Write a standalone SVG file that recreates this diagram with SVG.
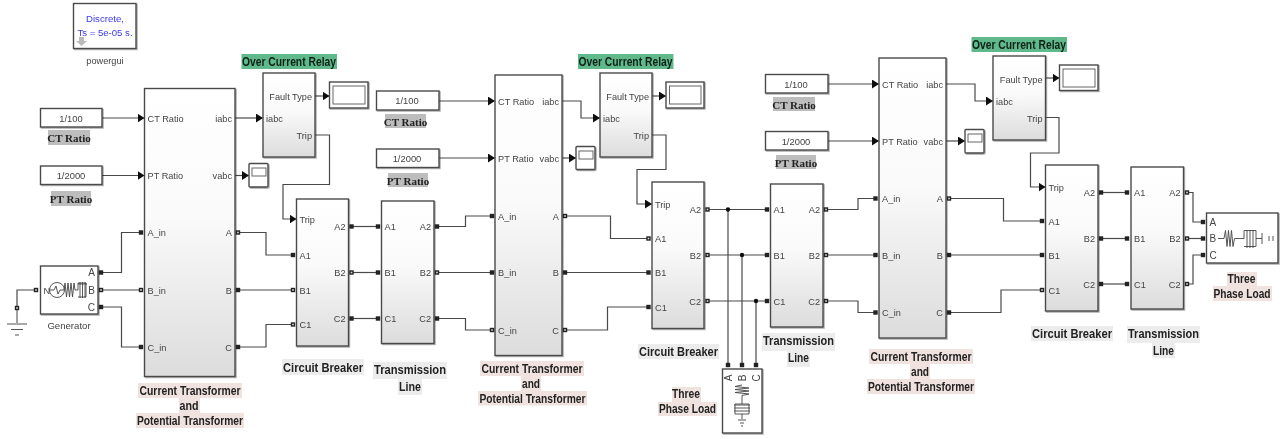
<svg xmlns="http://www.w3.org/2000/svg" width="1282" height="439" viewBox="0 0 1282 439">
<style>
text{font-family:"Liberation Sans",Arial,sans-serif;font-size:9.2px;fill:#444}
.m{text-anchor:middle}.e{text-anchor:end}
.blk{fill:url(#g);stroke:#4a4a4a;stroke-width:1.4;filter:url(#s)}
.wb{fill:#fff;stroke:#4a4a4a;stroke-width:1.4;filter:url(#s)}
.in{fill:#fff;stroke:#666;stroke-width:1}
.c{fill:none;stroke:#4a4a4a;stroke-width:1.2}
.a{marker-end:url(#ar)}
.ic{fill:none;stroke:#444;stroke-width:.9}
.big{font-size:12px;font-weight:bold;fill:#222;text-anchor:middle}
.ser{font-family:"Liberation Serif","Times New Roman",serif;font-size:11px;font-weight:bold;fill:#222;text-anchor:middle}
.ocr{font-size:12px;font-weight:bold;fill:#102018;text-anchor:middle}
.hg{fill:#5fb98a}.hs{fill:#bdbdbd}.hp{fill:#f0e2de}.hl{fill:#ececec}
.cv{font-size:9.4px;text-anchor:middle;fill:#444}
.blue{fill:#3a3ae8;font-size:9.6px;text-anchor:middle}
.pl{font-size:10px}
</style>
<defs>
<linearGradient id="g" x1="0" y1="0" x2="0" y2="1"><stop offset="0" stop-color="#fff"/><stop offset=".45" stop-color="#fafafa"/><stop offset="1" stop-color="#dcdcdc"/></linearGradient>
<filter id="s" x="-10%" y="-10%" width="125%" height="125%"><feDropShadow dx="1" dy="1" stdDeviation=".7" flood-color="#000" flood-opacity=".35"/></filter>
<filter id="bl" x="0" y="0" width="1282" height="439" filterUnits="userSpaceOnUse"><feGaussianBlur stdDeviation=".55"/></filter>
<marker id="ar" markerUnits="userSpaceOnUse" markerWidth="8" markerHeight="10" refX="7" refY="4.500" orient="auto"><path d="M0 0L7 4.500L0 9Z" fill="#111"/></marker>
<rect id="p" x="-2.2" y="-2.2" width="4.4" height="4.4" fill="#222"/>
<g id="q"><rect x="-2.2" y="-2.2" width="4.4" height="4.4" fill="#222"/><rect x="-.8" y="-.8" width="1.6" height="1.6" fill="#ddd"/></g>
<circle id="j" r="2.2" fill="#111"/>
</defs>
<g filter="url(#bl)">
<rect width="1282" height="439" fill="#fff"/>

<g id="connectors">
<path class="c a" d="M102 118H144.500"/><path class="c a" d="M102 175.500H144.500"/>
<path class="c a" d="M235 118H263"/><path class="c a" d="M235 175.500H249"/>
<path class="c a" d="M315 96H329.500"/>
<path class="c a" d="M315 135H329.500V184.500H283V219H296.500"/>
<path class="c" d="M36 290H17V307"/>
<path class="c" d="M101 272.500H121.500V232.500H141"/><path class="c" d="M101 290H141"/><path class="c" d="M101 307H121.500V347H141"/>
<path class="c" d="M238 232.500H266V255H293"/><path class="c" d="M238 290H293"/><path class="c" d="M238 347H266V324.500H293"/>
<path class="c" d="M351 226.500H378"/><path class="c" d="M351 272.500H378"/><path class="c" d="M351 318.500H378"/>
<path class="c" d="M437 226.500H465.500V216H492"/><path class="c" d="M437 272.500H492"/><path class="c" d="M437 318.500H465.500V330H492"/>
<path class="c a" d="M439 101H495"/><path class="c a" d="M439 158H495"/>
<path class="c a" d="M562 101H581V118H600"/><path class="c a" d="M562 158H576"/>
<path class="c a" d="M652 96H666"/>
<path class="c a" d="M652 135H666V169.500H637V204H652"/>
<path class="c" d="M565 216H610.500V238.500H649"/><path class="c" d="M565 272.500H649"/><path class="c" d="M565 330H607.500V307H649"/>
<path class="c" d="M707 209.500H767.500"/><path class="c" d="M707 255H767.500"/><path class="c" d="M707 301H767.500"/>
<path class="c" d="M728 209.500V365"/><path class="c" d="M742 255V365"/><path class="c" d="M756 301V365"/>
<path class="c" d="M826 209.500H858V198.500H876"/><path class="c" d="M826 255H876"/><path class="c" d="M826 301H858V312.500H876"/>
<path class="c a" d="M828 84H879"/><path class="c a" d="M828 141H879"/>
<path class="c a" d="M946 84H975V101H993"/><path class="c a" d="M946 141H965"/>
<path class="c a" d="M1045.500 78H1059.500"/>
<path class="c a" d="M1045.500 117.500H1059V153H1030.500V187H1045.500"/>
<path class="c" d="M949 198.500H1003.500V221H1042"/><path class="c" d="M949 255H1042"/><path class="c" d="M949 312.500H1001V290H1042"/>
<path class="c" d="M1101 192.500H1128"/><path class="c" d="M1101 238.500H1128"/><path class="c" d="M1101 284H1128"/>
<path class="c" d="M1186 192.500H1193V222H1203"/><path class="c" d="M1186 238.500H1203"/><path class="c" d="M1186 284H1193V255H1203"/>
<use href="#j" x="728" y="209.500"/><use href="#j" x="742" y="255"/><use href="#j" x="756" y="301"/>
</g>

<g id="powergui">
<rect class="wb" x="73.500" y="3.500" width="62.500" height="45"/>
<text x="105" y="21.500" class="blue">Discrete,</text>
<text x="105" y="35.500" class="blue">Ts = 5e-05 s.</text>
<path d="M79 37h5v4h3l-5.500 5l-5.500-5h3z" fill="#bbb"/>
<text x="105" y="63.500" class="m">powergui</text>
</g>

<g id="generator">
<rect class="wb" x="40.500" y="266" width="57.500" height="48"/>
<text x="43.500" y="293.500">N</text><text x="95" y="276" class="e pl">A</text><text x="95" y="293.500" class="e pl">B</text><text x="95" y="311" class="e pl">C</text>
<circle class="ic" cx="57" cy="290" r="7.500"/><path class="ic" d="M50 290H54M54 290l2-4l2 8l2-4M60 290H64"/>
<path class="ic" d="M64 290l1-7l1.500 14l1.500-14l1.500 14l1.500-14l1.500 14l1.500-14l1 7H78v-7h8v14h-8M78 284h9M80 282v16M82.500 282v16M85 282v16"/>
<use href="#q" x="36" y="290"/><use href="#p" x="101" y="272.500"/><use href="#q" x="101" y="290"/><use href="#p" x="101" y="307"/>
<text x="69" y="328.500" class="m" style="font-size:9.600px">Generator</text>
</g>

<g id="ground">
<use href="#q" x="17" y="308"/>
<path d="M17 310V323M7 324H27M11 329.500H23M15 335H19" fill="none" stroke="#555" stroke-width="1.100"/>
</g>

<g id="ct1">
<rect class="wb" x="40.500" y="108.500" width="61.500" height="18.500"/><text x="71" y="121.500" class="cv">1/100</text>
<rect class="hs" x="48" y="130" width="42" height="15"/><text x="69" y="142" class="ser">CT Ratio</text>
</g>
<g id="pt1">
<rect class="wb" x="40.500" y="166" width="61.500" height="18.500"/><text x="71" y="179" class="cv">1/2000</text>
<rect class="hs" x="51" y="191" width="40" height="15"/><text x="71" y="203" class="ser">PT Ratio</text>
</g>
<g id="transformer1">
<rect class="blk" x="144.500" y="88.500" width="90.500" height="288"/>
<text x="147.500" y="121.500">CT Ratio</text><text x="147.500" y="179">PT Ratio</text><text x="147.500" y="236">A_in</text><text x="147.500" y="293.500">B_in</text><text x="147.500" y="350.500">C_in</text>
<text x="232" y="121.500" class="e">iabc</text><text x="232" y="179" class="e">vabc</text><text x="232" y="236" class="e">A</text><text x="232" y="293.500" class="e">B</text><text x="232" y="350.500" class="e">C</text>
<use href="#p" x="141" y="232.500"/><use href="#q" x="141" y="290"/><use href="#p" x="141" y="347"/><use href="#q" x="238" y="232.500"/><use href="#p" x="238" y="290"/><use href="#p" x="238" y="347"/>
<rect class="hp" x="138" y="383" width="104" height="15"/><rect class="hp" x="179" y="398" width="21" height="15"/><rect class="hp" x="136" y="413" width="108" height="15"/>
<text x="190" y="395" class="big" textLength="101" lengthAdjust="spacingAndGlyphs">Current Transformer</text><text x="189" y="410" class="big" textLength="19" lengthAdjust="spacingAndGlyphs">and</text><text x="190" y="425" class="big" textLength="106" lengthAdjust="spacingAndGlyphs">Potential Transformer</text>
</g>
<g id="scope1a"><rect class="wb" x="249" y="163.500" width="19" height="23.500" rx="1"/><rect class="in" x="252" y="168" width="14" height="8"/></g>
<g id="relay1">
<rect class="hg" x="241.500" y="54" width="95.500" height="15"/><text x="289" y="65.500" class="ocr" textLength="94" lengthAdjust="spacingAndGlyphs">Over Current Relay</text>
<rect class="blk" x="263" y="73" width="52" height="84"/>
<text x="312" y="99.500" class="e">Fault Type</text><text x="266" y="121.500">iabc</text><text x="312" y="138.500" class="e">Trip</text>
</g>
<g id="scope1b"><rect class="wb" x="329.500" y="82" width="38.500" height="26"/><rect class="in" x="333" y="86" width="32" height="18"/></g>
<g id="breaker1">
<rect class="blk" x="296.500" y="199" width="52" height="147"/>
<text x="299.500" y="222.500">Trip</text><text x="299.500" y="258.500">A1</text><text x="299.500" y="293.500">B1</text><text x="299.500" y="328">C1</text>
<text x="345.500" y="230" class="e">A2</text><text x="345.500" y="276" class="e">B2</text><text x="345.500" y="322" class="e">C2</text>
<use href="#p" x="293" y="255"/><use href="#q" x="293" y="290"/><use href="#q" x="293" y="324.500"/><use href="#p" x="351.500" y="226.500"/><use href="#q" x="351.500" y="272.500"/><use href="#p" x="351.500" y="318.500"/>
<rect class="hl" x="282" y="359" width="82" height="16"/><text x="323" y="371.500" class="big" textLength="80" lengthAdjust="spacingAndGlyphs">Circuit Breaker</text>
</g>
<g id="line1">
<rect class="blk" x="381.500" y="201" width="52.500" height="142.500"/>
<text x="384.500" y="230">A1</text><text x="384.500" y="276">B1</text><text x="384.500" y="322">C1</text>
<text x="431" y="230" class="e">A2</text><text x="431" y="276" class="e">B2</text><text x="431" y="322" class="e">C2</text>
<use href="#p" x="378" y="226.500"/><use href="#p" x="378" y="272.500"/><use href="#p" x="378" y="318.500"/><use href="#p" x="437" y="226.500"/><use href="#q" x="437" y="272.500"/><use href="#p" x="437" y="318.500"/>
<rect class="hl" x="373" y="362" width="74" height="17"/><rect class="hl" x="398" y="379" width="24" height="16"/>
<text x="410" y="374" class="big" textLength="72" lengthAdjust="spacingAndGlyphs">Transmission</text><text x="410" y="391" class="big" textLength="22" lengthAdjust="spacingAndGlyphs">Line</text>
</g>

<g id="ct2">
<rect class="wb" x="376.500" y="91" width="62.500" height="19"/><text x="407" y="104" class="cv">1/100</text>
<rect class="hs" x="385" y="114" width="41" height="14"/><text x="405.500" y="125.500" class="ser">CT Ratio</text>
</g>
<g id="pt2">
<rect class="wb" x="376.500" y="149" width="62.500" height="18.500"/><text x="407" y="162" class="cv">1/2000</text>
<rect class="hs" x="388" y="173" width="40" height="14"/><text x="408" y="184.500" class="ser">PT Ratio</text>
</g>
<g id="transformer2">
<rect class="blk" x="495" y="75" width="67" height="280.500"/>
<text x="498" y="104.500">CT Ratio</text><text x="498" y="161.500">PT Ratio</text><text x="498" y="219.500">A_in</text><text x="498" y="276">B_in</text><text x="498" y="333.500">C_in</text>
<text x="559" y="104.500" class="e">iabc</text><text x="559" y="161.500" class="e">vabc</text><text x="559" y="219.500" class="e">A</text><text x="559" y="276" class="e">B</text><text x="559" y="333.500" class="e">C</text>
<use href="#p" x="492" y="216"/><use href="#p" x="492" y="272.500"/><use href="#q" x="492" y="330"/><use href="#q" x="565" y="216"/><use href="#p" x="565" y="272.500"/><use href="#q" x="565" y="330"/>
<rect class="hp" x="480" y="361" width="104" height="15"/><rect class="hp" x="521" y="376" width="20" height="15"/><rect class="hp" x="478" y="391" width="109" height="14.500"/>
<text x="532" y="373" class="big" textLength="101" lengthAdjust="spacingAndGlyphs">Current Transformer</text><text x="531" y="388" class="big" textLength="18" lengthAdjust="spacingAndGlyphs">and</text><text x="532.500" y="402.500" class="big" textLength="106" lengthAdjust="spacingAndGlyphs">Potential Transformer</text>
</g>
<g id="scope2a"><rect class="wb" x="576" y="146.500" width="19" height="23" rx="1"/><rect class="in" x="579" y="151" width="14" height="8"/></g>
<g id="relay2">
<rect class="hg" x="578" y="54" width="95.500" height="15"/><text x="625.500" y="65.500" class="ocr" textLength="94" lengthAdjust="spacingAndGlyphs">Over Current Relay</text>
<rect class="blk" x="600" y="73" width="52" height="84"/>
<text x="649" y="99.500" class="e">Fault Type</text><text x="603" y="121.500">iabc</text><text x="649" y="138.500" class="e">Trip</text>
</g>
<g id="scope2b"><rect class="wb" x="666" y="82" width="38" height="26"/><rect class="in" x="669.500" y="86" width="31.500" height="18"/></g>
<g id="breaker2">
<rect class="blk" x="652" y="182" width="52" height="146.500"/>
<text x="655" y="207.500">Trip</text><text x="655" y="242">A1</text><text x="655" y="276">B1</text><text x="655" y="310.500">C1</text>
<text x="701" y="213" class="e">A2</text><text x="701" y="258.500" class="e">B2</text><text x="701" y="304.500" class="e">C2</text>
<use href="#q" x="648.500" y="238.500"/><use href="#p" x="648.500" y="272.500"/><use href="#p" x="648.500" y="307"/><use href="#q" x="707.500" y="209.500"/><use href="#q" x="707.500" y="255"/><use href="#q" x="707.500" y="301"/>
<rect class="hl" x="638" y="344" width="81" height="15"/><text x="678.500" y="355.500" class="big" textLength="79" lengthAdjust="spacingAndGlyphs">Circuit Breaker</text>
</g>
<g id="line2">
<rect class="blk" x="770.500" y="184" width="52.500" height="143"/>
<text x="773.500" y="213">A1</text><text x="773.500" y="258.500">B1</text><text x="773.500" y="304.500">C1</text>
<text x="820" y="213" class="e">A2</text><text x="820" y="258.500" class="e">B2</text><text x="820" y="304.500" class="e">C2</text>
<use href="#p" x="767" y="209.500"/><use href="#p" x="767" y="255"/><use href="#p" x="767" y="301"/><use href="#q" x="826" y="209.500"/><use href="#q" x="826" y="255"/><use href="#q" x="826" y="301"/>
<rect class="hl" x="762" y="333" width="73" height="18"/><rect class="hl" x="787" y="351" width="23" height="16"/>
<text x="798.500" y="344.500" class="big" textLength="71" lengthAdjust="spacingAndGlyphs">Transmission</text><text x="798.500" y="361.500" class="big" textLength="21" lengthAdjust="spacingAndGlyphs">Line</text>
</g>
<g id="load1">
<rect class="wb" x="722.500" y="369" width="39.500" height="64"/>
<use href="#p" x="728" y="365"/><use href="#p" x="742" y="365"/><use href="#p" x="756" y="365"/>
<text transform="translate(731.500 378) rotate(-90)" class="m pl">A</text><text transform="translate(745.500 378) rotate(-90)" class="m pl">B</text><text transform="translate(759.500 378) rotate(-90)" class="m pl">C</text>
<path class="ic" d="M742 385l-7 1.500l14 1.500l-14 1.500l14 1.500l-14 1.500l14 1.500l-7 1.500V404h-7v10h14v-10h-7M734 405h16M734 408h16M734 411h16M742 414V419M738 420H746M740 423H744M741 426H743"/>
<rect class="hp" x="672" y="387" width="29" height="15"/><rect class="hp" x="658" y="402" width="59" height="14"/>
<text x="686" y="398" class="big" textLength="28" lengthAdjust="spacingAndGlyphs">Three</text><text x="687.500" y="412.500" class="big" textLength="57" lengthAdjust="spacingAndGlyphs">Phase Load</text>
</g>

<g id="ct3">
<rect class="wb" x="765.500" y="74.500" width="62.500" height="18.500"/><text x="796" y="87.500" class="cv">1/100</text>
<rect class="hs" x="773" y="97" width="42" height="14"/><text x="794" y="108.500" class="ser">CT Ratio</text>
</g>
<g id="pt3">
<rect class="wb" x="765.500" y="131.500" width="62.500" height="18.500"/><text x="796" y="144.500" class="cv">1/2000</text>
<rect class="hs" x="776" y="155" width="40" height="14"/><text x="796" y="166.500" class="ser">PT Ratio</text>
</g>
<g id="transformer3">
<rect class="blk" x="879" y="58" width="67" height="280"/>
<text x="882" y="87.500">CT Ratio</text><text x="882" y="144.500">PT Ratio</text><text x="882" y="202">A_in</text><text x="882" y="258.500">B_in</text><text x="882" y="316">C_in</text>
<text x="943" y="87.500" class="e">iabc</text><text x="943" y="144.500" class="e">vabc</text><text x="943" y="202" class="e">A</text><text x="943" y="258.500" class="e">B</text><text x="943" y="316" class="e">C</text>
<use href="#p" x="875.500" y="198.500"/><use href="#p" x="875.500" y="255"/><use href="#p" x="875.500" y="312.500"/><use href="#q" x="949" y="198.500"/><use href="#p" x="949" y="255"/><use href="#p" x="949" y="312.500"/>
<rect class="hp" x="869" y="349" width="104" height="15"/><rect class="hp" x="910" y="364" width="20" height="15"/><rect class="hp" x="867" y="379" width="108" height="15"/>
<text x="921" y="361" class="big" textLength="101" lengthAdjust="spacingAndGlyphs">Current Transformer</text><text x="920" y="376" class="big" textLength="18" lengthAdjust="spacingAndGlyphs">and</text><text x="921" y="391" class="big" textLength="106" lengthAdjust="spacingAndGlyphs">Potential Transformer</text>
</g>
<g id="scope3a"><rect class="wb" x="965" y="129.500" width="19" height="23.500" rx="1"/><rect class="in" x="968" y="134" width="14" height="8"/></g>
<g id="relay3">
<rect class="hg" x="971.500" y="37" width="95.500" height="15"/><text x="1019" y="48.500" class="ocr" textLength="94" lengthAdjust="spacingAndGlyphs">Over Current Relay</text>
<rect class="blk" x="993" y="56" width="52.500" height="84"/>
<text x="1042.500" y="82.500" class="e">Fault Type</text><text x="996" y="104.500">iabc</text><text x="1042.500" y="122" class="e">Trip</text>
</g>
<g id="scope3b"><rect class="wb" x="1059.500" y="65" width="38.500" height="25.500"/><rect class="in" x="1063" y="69" width="32" height="18"/></g>
<g id="breaker3">
<rect class="blk" x="1045.500" y="165" width="52.500" height="146"/>
<text x="1048.500" y="190.500">Trip</text><text x="1048.500" y="224.500">A1</text><text x="1048.500" y="258.500">B1</text><text x="1048.500" y="293.500">C1</text>
<text x="1095" y="196" class="e">A2</text><text x="1095" y="242" class="e">B2</text><text x="1095" y="287.500" class="e">C2</text>
<use href="#p" x="1042" y="221"/><use href="#p" x="1042" y="255"/><use href="#q" x="1042" y="290"/><use href="#p" x="1101" y="192.500"/><use href="#p" x="1101" y="238.500"/><use href="#p" x="1101" y="284"/>
<rect class="hl" x="1031" y="326" width="82" height="15"/><text x="1072" y="337.500" class="big" textLength="80" lengthAdjust="spacingAndGlyphs">Circuit Breaker</text>
</g>
<g id="line3">
<rect class="blk" x="1131" y="167" width="52.500" height="142"/>
<text x="1134" y="196">A1</text><text x="1134" y="242">B1</text><text x="1134" y="287.500">C1</text>
<text x="1180.500" y="196" class="e">A2</text><text x="1180.500" y="242" class="e">B2</text><text x="1180.500" y="287.500" class="e">C2</text>
<use href="#p" x="1127" y="192.500"/><use href="#p" x="1127" y="238.500"/><use href="#p" x="1127" y="284"/><use href="#q" x="1187" y="192.500"/><use href="#q" x="1187" y="238.500"/><use href="#q" x="1187" y="284"/>
<rect class="hl" x="1127" y="326" width="73" height="17"/><rect class="hl" x="1152" y="343" width="23" height="15"/>
<text x="1163.500" y="338" class="big" textLength="71" lengthAdjust="spacingAndGlyphs">Transmission</text><text x="1163.500" y="354.500" class="big" textLength="21" lengthAdjust="spacingAndGlyphs">Line</text>
</g>
<g id="load2">
<rect class="wb" x="1206.500" y="213" width="71.500" height="50"/>
<use href="#p" x="1203" y="222"/><use href="#p" x="1203" y="238.500"/><use href="#p" x="1203" y="255"/>
<text x="1209.500" y="225.500" class="pl">A</text><text x="1209.500" y="242" class="pl">B</text><text x="1209.500" y="258.500" class="pl">C</text>
<path class="ic" d="M1218 238.500H1224l1.500-8l1.500 16l1.500-16l1.500 16l1.500-16l1.500 16l1.500-8H1244v-8h12v16h-12M1247 230v18M1250 230v18M1253 230v18M1256 238.500H1262M1262 233v11M1269 236v5M1273 236v5"/>
<rect class="hp" x="1227" y="272" width="30" height="14"/><rect class="hp" x="1213" y="286" width="59" height="15"/>
<text x="1241.500" y="282.500" class="big" textLength="28" lengthAdjust="spacingAndGlyphs">Three</text><text x="1242" y="297.500" class="big" textLength="57" lengthAdjust="spacingAndGlyphs">Phase Load</text>
</g>
</g>
</svg>
